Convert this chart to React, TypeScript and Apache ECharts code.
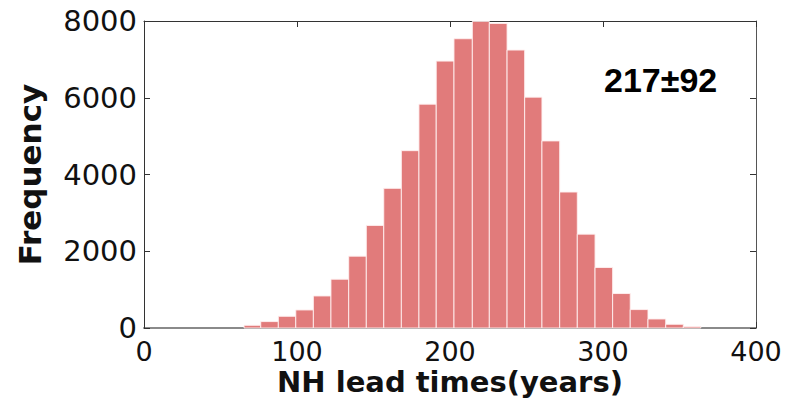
import React, { useEffect, useRef } from "react";
import * as echarts from "echarts";

const binEdges = [65.4, 76.3, 87.8, 99.2, 110.7, 122.2, 133.8, 145.3, 156.7, 168.2, 179.7, 191.0, 202.6, 214.6, 225.7, 237.3, 248.8, 260.1, 271.7, 283.2, 294.8, 306.3, 317.8, 329.4, 341.0, 352.5, 363.9];
const counts = [70, 167, 305, 470, 835, 1271, 1872, 2673, 3639, 4621, 5833, 6955, 7538, 7990, 7937, 7243, 6016, 4875, 3543, 2446, 1577, 898, 480, 235, 97, 37];
const xTicks = [0, 100, 200, 300, 400];
const yTicks = [0, 2000, 4000, 6000, 8000];
const xTitle = "NH lead times(years)";
const yTitle = "Frequency";
const annotation = "217±92";

export default function App() {
  const ref = useRef<HTMLDivElement>(null);
  useEffect(() => {
    if (!ref.current) return;
    const chart = echarts.init(ref.current, undefined, { renderer: "svg" });
    const data = counts.map((c, i) => [binEdges[i], binEdges[i + 1], c]);
    const plain = (v: number) => String(v);
    chart.setOption({
      animation: false,
      backgroundColor: "#ffffff",
      grid: { left: 144, top: 21, right: 34, bottom: 85 },
      xAxis: [
        {
          type: "value",
          min: xTicks[0],
          max: xTicks[xTicks.length - 1],
          interval: 100,
          position: "bottom",
          axisLine: { show: true, onZero: false, lineStyle: { color: "#8a8a8a", width: 2 } },
          axisTick: { show: true, inside: true, length: 6, lineStyle: { color: "#333" } },
          splitLine: { show: false },
          axisLabel: { fontFamily: "DejaVu Sans", fontSize: 27, color: "#111", margin: 10, formatter: plain },
          name: xTitle,
          nameLocation: "middle",
          nameGap: 39,
          nameMoveOverlap: false,
          nameTextStyle: { fontFamily: "DejaVu Sans", fontWeight: "bold", fontSize: 29, color: "#111", verticalAlign: "top" },
        },
        {
          type: "value",
          min: xTicks[0],
          max: xTicks[xTicks.length - 1],
          interval: 100,
          position: "top",
          axisLine: { show: true, onZero: false, lineStyle: { color: "#333", width: 1 } },
          axisTick: { show: true, inside: true, length: 6, lineStyle: { color: "#333" } },
          splitLine: { show: false },
          axisLabel: { show: false },
        },
      ],
      yAxis: [
        {
          type: "value",
          min: yTicks[0],
          max: yTicks[yTicks.length - 1],
          interval: 2000,
          position: "left",
          axisLine: { show: true, onZero: false, lineStyle: { color: "#333", width: 1 } },
          axisTick: { show: true, inside: true, length: 6, lineStyle: { color: "#333" } },
          splitLine: { show: false },
          axisLabel: { fontFamily: "DejaVu Sans", fontSize: 29, color: "#111", margin: 7, formatter: plain },
          name: yTitle,
          nameLocation: "middle",
          nameGap: 99,
          nameRotate: 90,
          nameMoveOverlap: false,
          nameTextStyle: { fontFamily: "DejaVu Sans", fontWeight: "bold", fontSize: 31, color: "#111" },
        },
        {
          type: "value",
          min: yTicks[0],
          max: yTicks[yTicks.length - 1],
          interval: 2000,
          position: "right",
          axisLine: { show: true, onZero: false, lineStyle: { color: "#555", width: 1 } },
          axisTick: { show: true, inside: true, length: 6, lineStyle: { color: "#333" } },
          splitLine: { show: false },
          axisLabel: { show: false },
        },
      ],
      series: [
        {
          type: "custom",
          xAxisIndex: 0,
          yAxisIndex: 0,
          encode: { x: [0, 1], y: 2 },
          data,
          renderItem: (params: any, api: any) => {
            const start = api.coord([api.value(0), api.value(2)]);
            const end = api.coord([api.value(1), 0]);
            return {
              type: "rect",
              shape: { x: start[0], y: start[1], width: end[0] - start[0], height: end[1] - start[1] },
              style: { fill: "#E17B7B", stroke: "rgba(255,240,240,0.9)", lineWidth: 1 },
            };
          },
        },
      ],
      graphic: [
        {
          type: "text",
          left: 604,
          top: 63,
          style: {
            text: annotation,
            fontFamily: "Liberation Sans",
            fontWeight: "bold",
            fontSize: 34,
            fill: "#000",
          },
        },
      ],
    });
    return () => chart.dispose();
  }, []);
  return <div ref={ref} style={{ width: 790, height: 413, position: "absolute", left: 0, top: 0 }} />;
}
